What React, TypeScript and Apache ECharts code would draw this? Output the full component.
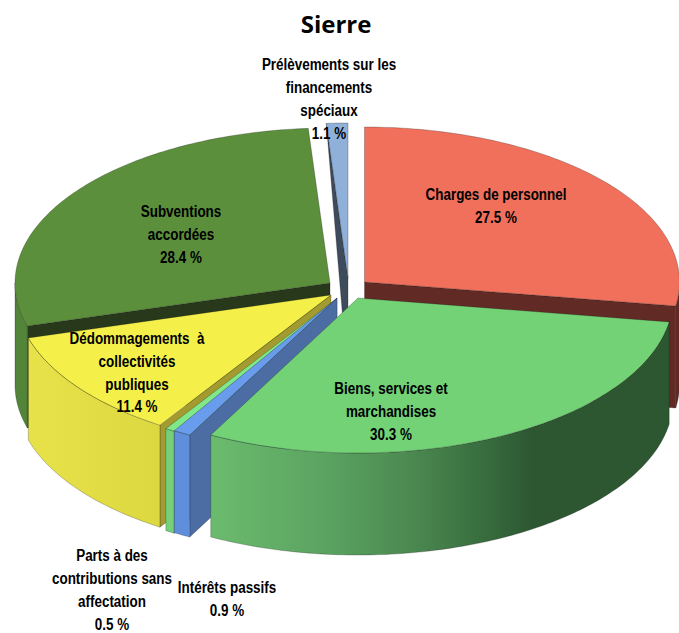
import React, { useEffect, useRef } from "react";
import * as echarts from "echarts";

const chartTitle = "Sierre";
const categories = [
  "Charges de personnel",
  "Biens, services et\nmarchandises",
  "Intérêts passifs",
  "Parts à des\ncontributions sans\naffectation",
  "Dédommagements  à\ncollectivités\npubliques",
  "Subventions\naccordées",
  "Prélèvements sur les\nfinancements\nspéciaux",
];
const values = [27.5, 30.3, 0.9, 0.5, 11.4, 28.4, 1.1];

// Layout of the exploded pie (pixels)
const RX = 315;
const RY = 155;
const DEPTH = 102;
const apexes = [
  [364.5, 282],
  [358, 298],
  [337, 298],
  [337, 298.5],
  [331, 295],
  [330, 283],
  [348, 278],
];
const rimDepths = [DEPTH, DEPTH, DEPTH, DEPTH, DEPTH, DEPTH, 0];
const drawOrder = [5, 6, 0, 4, 3, 2, 1];
const labelCentres = [
  [496, 193.5],
  [391, 387.5],
  [227, 586.5],
  [112, 555],
  [137, 337.5],
  [181, 211],
  [329, 64],
];

const topColors = ["#F0705C", "#73D176", "#6A9CEE", "#80E888", "#F4F049", "#5C8F3B", "#8FB0D8"];
const cutColors = ["#622A24", "#2C5630", "#4C6DA3", "#5FB064", "#A39A30", "#27391A", "#3D4B5C"];
const wallStops = [
  [
    [0, "#622A24"],
    [1, "#622A24"],
  ],
  [
    [0, "#6BBB6E"],
    [0.25, "#5BA361"],
    [0.45, "#4A874F"],
    [0.62, "#35683B"],
    [0.7, "#2D5731"],
    [1, "#2D5731"],
  ],
  [
    [0, "#5F8FDC"],
    [1, "#5F8FDC"],
  ],
  [
    [0, "#75D078"],
    [1, "#75D078"],
  ],
  [
    [0, "#E8E24A"],
    [1, "#DCD840"],
  ],
  [
    [0, "#52853A"],
    [1, "#52853A"],
  ],
  [
    [0, "#5B7A9E"],
    [1, "#5B7A9E"],
  ],
];

const EDGE = "rgba(20,20,20,0.5)";
const LABEL_FONT = '"Liberation Sans", Arial, sans-serif';
const rad = (d: number) => (d * Math.PI) / 180;
const total = values.reduce((a, b) => a + b, 0);

const cumulative: number[] = [];
values.reduce((acc, v, i) => {
  cumulative[i] = acc;
  return acc + v;
}, 0);

const rows = drawOrder.map((i) => [
  i,
  (cumulative[i] / total) * 360,
  ((cumulative[i] + values[i]) / total) * 360,
]);

function rim(c: number[], t: number, dy = 0) {
  return [c[0] + RX * Math.sin(rad(t)), c[1] - RY * Math.cos(rad(t)) + dy];
}

function arc(c: number[], a: number, b: number, dy = 0) {
  const n = Math.max(2, Math.ceil(Math.abs(b - a)));
  const pts: number[][] = [];
  for (let k = 0; k <= n; k++) pts.push(rim(c, a + ((b - a) * k) / n, dy));
  return pts;
}

function renderItem(_params: any, api: any) {
  const i = api.value(0);
  const start = api.value(1);
  const end = api.value(2);
  const c = apexes[i];
  const children: any[] = [];
  const poly = (points: number[][], fill: any) => ({
    type: "polygon",
    shape: { points },
    style: { fill, stroke: EDGE, lineWidth: 0.5 },
  });
  const cut = (t: number) =>
    poly(
      [rim(c, t), rim(c, t, rimDepths[i]), [c[0], c[1] + DEPTH], c],
      cutColors[i]
    );
  if (Math.sin(rad(start)) < 0) children.push(cut(start));
  if (Math.sin(rad(end)) > 0) children.push(cut(end));

  const a = Math.max(start, 90);
  const b = Math.min(end, 270);
  if (b > a) {
    children.push(
      poly(
        [...arc(c, a, b), ...arc(c, b, a, DEPTH)],
        new echarts.graphic.LinearGradient(
          0,
          0,
          1,
          0,
          wallStops[i].map(([offset, color]) => ({ offset, color }))
        )
      )
    );
  }
  children.push(poly([c, ...arc(c, start, end)], topColors[i]));
  return { type: "group", children };
}

export default function App() {
  const ref = useRef<HTMLDivElement>(null);
  useEffect(() => {
    const chart = echarts.init(ref.current, undefined, { renderer: "svg" });
    chart.setOption({
      animation: false,
      backgroundColor: "#ffffff",
      title: {
        text: chartTitle,
        left: 331,
        top: 6,
        textAlign: "center",
        textStyle: {
          fontFamily: '"Open Sans", sans-serif',
          fontWeight: "bold",
          fontSize: 24,
          color: "#000000",
        },
      },
      series: [
        {
          type: "custom",
          coordinateSystem: "none",
          silent: true,
          renderItem,
          data: rows,
        },
      ],
      graphic: categories.map((name, i) => ({
        type: "text",
        z: 100,
        x: labelCentres[i][0],
        y: labelCentres[i][1] - 11,
        scaleX: 0.79,
        style: {
          text: `${name}\n${values[i].toFixed(1)} %`,
          align: "center",
          verticalAlign: "top",
          fontFamily: LABEL_FONT,
          fontWeight: "bold",
          fontSize: 17,
          lineHeight: 22.8,
          fill: "#000000",
        },
      })),
    });
    return () => chart.dispose();
  }, []);
  return (
    <div
      ref={ref}
      style={{ position: "absolute", left: 0, top: 0, width: 679, height: 633 }}
    />
  );
}
